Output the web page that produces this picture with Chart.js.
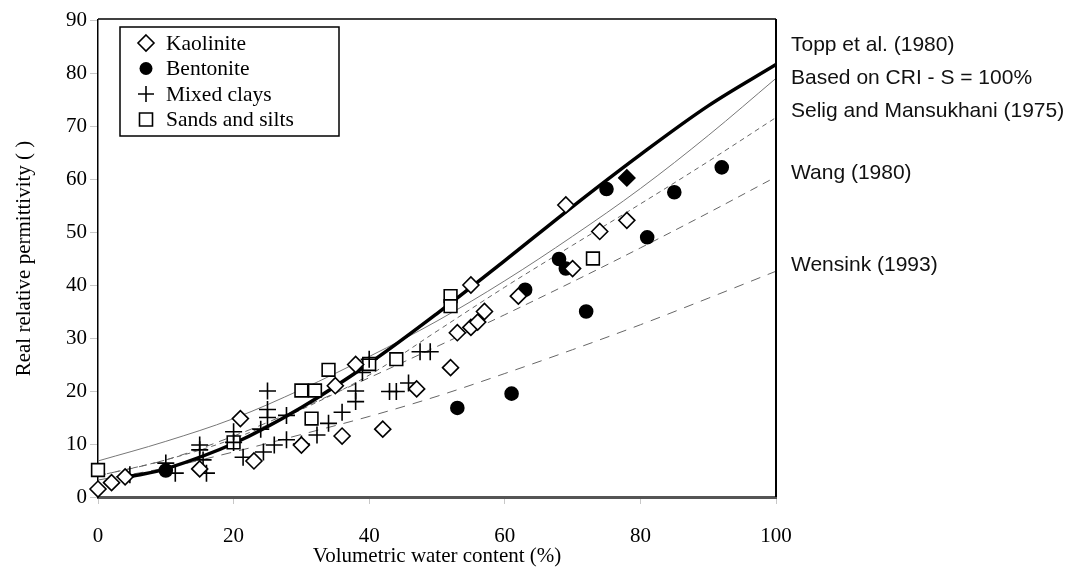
<!DOCTYPE html>
<html>
<head>
<meta charset="utf-8">
<title>Real relative permittivity vs volumetric water content</title>
<script src="https://cdn.jsdelivr.net/npm/chart.js@4.4.1/dist/chart.umd.min.js"></script>
<style>
  html, body { margin: 0; padding: 0; background: #fff; }
  #chart { display: block; }
</style>
</head>
<body>
<canvas id="chart" width="1074" height="569"></canvas>
<script>
const kaoliniteX = [0, 2, 4, 15, 21, 23, 30, 35, 36, 38, 42, 47, 52, 53, 55, 56, 57, 55, 62, 69, 70, 74, 78];
const kaoliniteY = [1.5, 2.7, 3.8, 5.3, 14.8, 6.8, 9.8, 21, 11.5, 25, 12.8, 20.4, 24.4, 31, 32, 33, 35, 40, 37.9, 55.1, 43.1, 50.1, 52.2];
const kaoliniteFilledX = [78];
const kaoliniteFilledY = [60.2];

const bentoniteX = [10, 53, 61, 63, 68, 69, 72, 75, 81, 85, 92];
const bentoniteY = [5, 16.8, 19.5, 39.1, 44.9, 43.1, 35, 58.1, 49, 57.5, 62.2];

const mixedX = [4.7, 10, 11.4, 15, 15, 15.5, 16, 20, 20, 21.4, 24, 24.4, 25, 25, 25, 26, 27.8, 27.8, 30, 32.3, 34, 36, 38, 38, 39, 40, 43, 44, 45.8, 47.5, 49];
const mixedY = [4.2, 6.4, 4.5, 9.8, 8.9, 7, 4.5, 12.3, 10.3, 7.5, 12.8, 8.5, 20, 16.5, 15, 9.8, 10.8, 15.4, 10, 11.7, 13.9, 16, 20, 18, 23.5, 26, 19.9, 19.9, 21.5, 27.4, 27.4];

const sandsX = [0, 20, 30, 32, 31.5, 34, 40, 44, 52, 52, 73];
const sandsY = [5.1, 10.3, 20.1, 20.1, 14.8, 24, 25.1, 26, 37.9, 36, 45];

// --- model curves ---
const curveX = [0, 10, 20, 30, 40, 50, 60, 70, 80, 90, 100];
const toppX = [5, 10, 20, 30, 40, 50, 60, 70, 80, 90, 100];
const toppY = [3.9, 5.3, 10.1, 16.9, 25.2, 34.6, 44.6, 54.8, 64.6, 73.8, 81.6];
const criY = [6.8, 10.5, 14.8, 20.3, 26.5, 33.2, 40.8, 49.2, 58.2, 68.2, 79];
const seligY = [4, 7, 11, 16.5, 23, 31.3, 39.6, 47.5, 55.3, 63.3, 71.6];
const wangY = [4, 7, 11.5, 16.8, 22.5, 28.4, 34.4, 40.6, 47, 53.6, 60.4];
const wensinkY = [3.2, 5.5, 8.5, 11.8, 15.2, 19, 23.3, 27.8, 32.5, 37.5, 42.6];

const curveNames = ['Topp et al. (1980)', 'Based on CRI - S = 100%', 'Selig and Mansukhani (1975)', 'Wang (1980)', 'Wensink (1993)'];
const curveLabelY = [85.3, 79.1, 72.8, 61.1, 43.8];

const legendNames = ['Kaolinite', 'Bentonite', 'Mixed clays', 'Sands and silts'];

const xTicks = [0, 20, 40, 60, 80, 100];
const yTicks = [0, 10, 20, 30, 40, 50, 60, 70, 80, 90];

function pts(xs, ys) {
  return xs.map(function (x, i) { return { x: x, y: ys[i] }; });
}

const serif = '"Liberation Serif", "Times New Roman", serif';
const sans = '"Liberation Sans", Arial, sans-serif';

function pointSet(label, xs, ys, style, radius, fill) {
  return {
    label: label,
    data: pts(xs, ys),
    showLine: false,
    clip: false,
    pointStyle: style,
    pointRadius: radius,
    pointHoverRadius: radius,
    pointBackgroundColor: fill,
    pointBorderColor: '#000',
    pointBorderWidth: 1.6,
    order: 0
  };
}

function curveSet(label, xs, ys, color, width, dash, order) {
  return {
    label: label,
    data: pts(xs, ys),
    showLine: true,
    borderColor: color,
    borderWidth: width,
    borderDash: dash,
    pointRadius: 0,
    tension: 0.35,
    fill: false,
    order: order
  };
}

// frame, legend box and curve names
const decorations = {
  id: 'decorations',
  afterDraw: function (chart) {
    const ctx = chart.ctx;
    const a = chart.chartArea;
    const ys = chart.scales.y;
    ctx.save();

    // top + right border of plot
    ctx.strokeStyle = '#000';
    ctx.lineWidth = 1.5;
    ctx.beginPath();
    ctx.moveTo(a.left, a.top - 1);
    ctx.lineTo(a.right, a.top - 1);
    ctx.stroke();
    ctx.lineWidth = 2;
    ctx.beginPath();
    ctx.moveTo(a.right, a.top - 1);
    ctx.lineTo(a.right, a.bottom);
    ctx.stroke();

    // legend
    const lx = 120, ly = 27, lw = 219, lh = 109;
    ctx.fillStyle = '#fff';
    ctx.fillRect(lx, ly, lw, lh);
    ctx.lineWidth = 1.5;
    ctx.strokeStyle = '#000';
    ctx.strokeRect(lx, ly, lw, lh);
    ctx.font = '21.5px ' + serif;
    ctx.textBaseline = 'middle';
    ctx.fillStyle = '#000';
    legendNames.forEach(function (name, i) {
      const cy = ly + 16 + i * 25.5;
      const cx = 146;
      ctx.lineWidth = 1.6;
      ctx.beginPath();
      if (i === 0) {
        ctx.moveTo(cx, cy - 8); ctx.lineTo(cx + 8, cy); ctx.lineTo(cx, cy + 8); ctx.lineTo(cx - 8, cy); ctx.closePath();
        ctx.stroke();
      } else if (i === 1) {
        ctx.arc(cx, cy, 6.5, 0, Math.PI * 2);
        ctx.fill();
      } else if (i === 2) {
        ctx.moveTo(cx - 8, cy); ctx.lineTo(cx + 8, cy);
        ctx.moveTo(cx, cy - 8); ctx.lineTo(cx, cy + 8);
        ctx.stroke();
      } else {
        ctx.rect(cx - 6.5, cy - 6.5, 13, 13);
        ctx.stroke();
      }
      ctx.fillText(name, 166, cy + 1);
    });

    // curve names on the right
    ctx.font = '21px ' + sans;
    ctx.fillStyle = '#111';
    ctx.textAlign = 'left';
    curveNames.forEach(function (name, i) {
      ctx.fillText(name, a.right + 15, ys.getPixelForValue(curveLabelY[i]));
    });
    ctx.restore();
  }
};

const datasets = [
  pointSet('Kaolinite', kaoliniteX, kaoliniteY, 'rectRot', 8, '#fff'),
  pointSet('Kaolinite (filled)', kaoliniteFilledX, kaoliniteFilledY, 'rectRot', 8, '#000'),
  pointSet('Bentonite', bentoniteX, bentoniteY, 'circle', 6.5, '#000'),
  pointSet('Mixed clays', mixedX, mixedY, 'cross', 8.5, '#000'),
  pointSet('Sands and silts', sandsX, sandsY, 'rect', 9, '#fff'),
  curveSet(curveNames[0], toppX, toppY, '#000', 3.5, [], 1),
  curveSet(curveNames[1], curveX, criY, '#777', 1, [], 2),
  curveSet(curveNames[2], curveX, seligY, '#666', 1, [5, 4], 2),
  curveSet(curveNames[3], curveX, wangY, '#666', 1, [8, 6], 2),
  curveSet(curveNames[4], curveX, wensinkY, '#666', 1, [10, 8], 2)
];

new Chart(document.getElementById('chart'), {
  type: 'scatter',
  data: { datasets: datasets },
  options: {
    responsive: false,
    animation: false,
    layout: { padding: { top: 20, right: 298, left: 0, bottom: 0 } },
    plugins: {
      legend: { display: false },
      tooltip: { enabled: false }
    },
    scales: {
      x: {
        type: 'linear',
        min: 0,
        max: 100,
        afterFit: function (s) { s.height = 72; },
        afterBuildTicks: function (s) { s.ticks = xTicks.map(function (v) { return { value: v }; }); },
        ticks: { color: '#000', font: { family: serif, size: 21 }, padding: 20, maxRotation: 0 },
        grid: { drawOnChartArea: false, drawTicks: true, tickLength: 7, color: '#c8c8c8' },
        border: { color: '#555', width: 3 },
        title: {
          display: true,
          text: 'Volumetric water content (%)',
          color: '#000',
          font: { family: serif, size: 21 },
          padding: { top: 0, bottom: 0 }
        }
      },
      y: {
        type: 'linear',
        min: 0,
        max: 90,
        afterFit: function (s) { s.width = 98; },
        afterBuildTicks: function (s) { s.ticks = yTicks.map(function (v) { return { value: v }; }); },
        ticks: { color: '#000', font: { family: serif, size: 21 }, padding: 3 },
        grid: { drawOnChartArea: false, drawTicks: true, tickLength: 8, color: '#c8c8c8' },
        border: { color: '#000', width: 1.5 },
        title: {
          display: true,
          text: 'Real relative permittivity ( )',
          color: '#000',
          font: { family: serif, size: 21 },
          padding: { top: 12, bottom: 0 }
        }
      }
    }
  },
  plugins: [decorations]
});
</script>
</body>
</html>
